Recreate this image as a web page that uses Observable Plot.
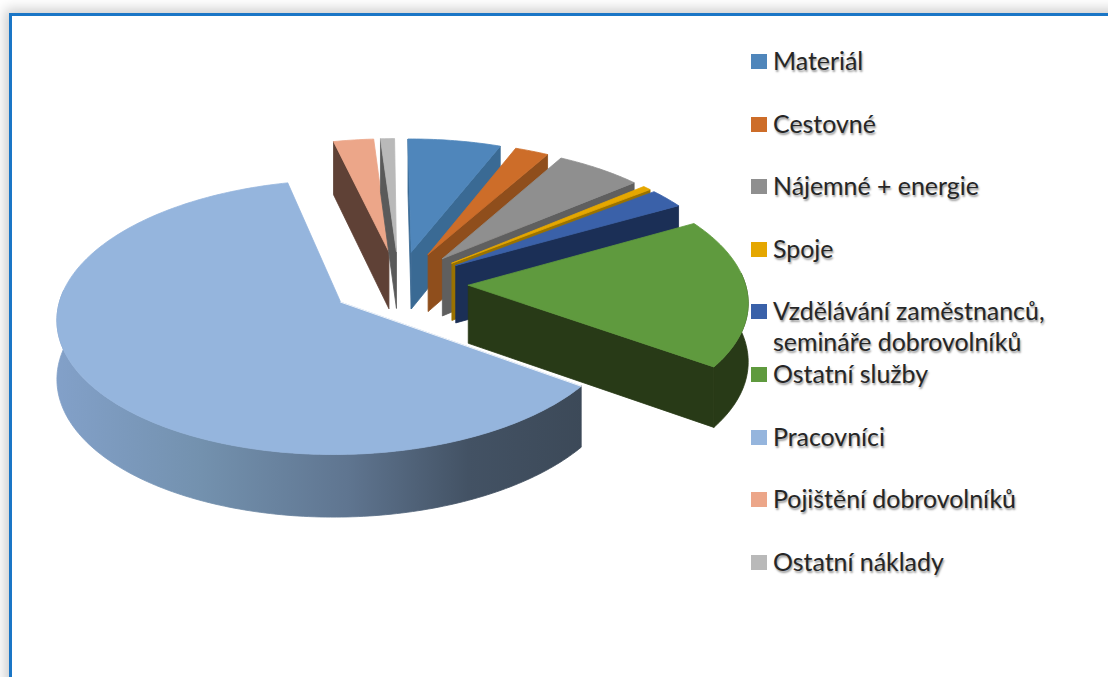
<!DOCTYPE html>
<html lang="cs">
<head>
<meta charset="utf-8">
<script src="https://cdn.jsdelivr.net/npm/d3@7"></script>
<script src="https://cdn.jsdelivr.net/npm/@observablehq/plot@0.6"></script>
<style>
  html, body { margin: 0; padding: 0; background: #fff; overflow: hidden; width: 1108px; height: 677px; }
  #frame { position: absolute; left: 9px; top: 13px; width: 1200px; height: 800px; border: 3px solid #1a76c6; box-sizing: border-box; box-shadow: 0 0 12px 4px rgba(0,0,0,.2); background: #fff; }
  #chart { position: absolute; left: 0; top: 0; width: 750px; height: 677px; }
  #chart svg { display: block; background: transparent; filter: blur(.45px); }
  #legend { position: absolute; left: 751px; top: 45px; width: 350px; font-family: Lato, "Open Sans", sans-serif; font-size: 24.9px; line-height: 31px; color: #262626; }
  .row { height: 62.6px; display: flex; align-items: flex-start; }
  .sw { flex: none; width: 16px; height: 15px; margin-top: 9px; margin-right: 6px; filter: blur(.3px); }
  .tx { white-space: pre-line; text-shadow: 1px 1.5px 2px rgba(0,0,0,.4); }
</style>
</head>
<body>
<div id="frame"></div>
<div id="chart"></div>
<div id="legend"></div>
<script>
const categories = ["Materiál", "Cestovné", "Nájemné + energie", "Spoje",
  "Vzdělávání zaměstnanců,\nsemináře dobrovolníků",
  "Ostatní služby", "Pracovníci", "Pojištění dobrovolníků", "Ostatní náklady"];
const values = [6.11, 2.22, 5.69, 0.56, 2.36, 18.06, 61.44, 2.64, 0.92];
const topColors = ["#4f86bb", "#cd6d29", "#8f8f8f", "#e5a700", "#3a61a9", "#5f9a3e", "#95b5dd", "#eca689", "#b9b9b9"];
const wallColors = ["#3a6a94", "#8f4e1c", "#5f5f5f", "#9a7200", "#1b2f56", "#283a17", "url(#wallGrad)", "#5f4136", "#5a5a5a"];
const paintOrder = [7, 8, 0, 1, 2, 3, 4, 5, 6];

// 3D pie view
const startAngle = -0.5, explode = 0.25;
const cx = 398.5, cy = 283, R = 277, A = 131.6, K = 0.108, H = 58;
const rad = (d) => d * Math.PI / 180;
const proj = (U, V) => [cx + R * U / (1 - K * V), cy + A * V / (1 - K * V)];
const thick = (V) => H * (1 + 0.07 * V);

const total = d3.sum(values);
let running = startAngle;
const slices = values.map((v, i) => {
  const a0 = running, a1 = running + v / total * 360;
  running = a1;
  const b = rad((a0 + a1) / 2);
  return {i, a0, a1, ou: explode * Math.sin(b), ov: -explode * Math.cos(b)};
});

const rows = [];
let pid = 0;
function poly(pts, fill) {
  pid++;
  [...pts, pts[0]].forEach(([x, y]) => rows.push({id: pid, x, y, fill}));
}
function top3(s, a) { return [s.ou + Math.sin(rad(a)), s.ov - Math.cos(rad(a))]; }
function pTop(U, V) { return proj(U, V); }
function pBot(U, V) { const [x, y] = proj(U, V); return [x, y + thick(V)]; }

for (const k of paintOrder) {
  const s = slices[k];
  const O = [s.ou, s.ov];
  // cut faces that turn toward the viewer
  if (Math.sin(rad(s.a0)) < -0.001) {
    const E = top3(s, s.a0);
    poly([pTop(...O), pTop(...E), pBot(...E), pBot(...O)], wallColors[k]);
  }
  if (Math.sin(rad(s.a1)) > 0.001) {
    const E = top3(s, s.a1);
    poly([pTop(...O), pTop(...E), pBot(...E), pBot(...O)], wallColors[k]);
  }
  // outer wall, front half of the rim only
  const w0 = Math.max(s.a0, 85), w1 = Math.min(s.a1, 275);
  if (w1 > w0) {
    const up = [], dn = [];
    for (const a of d3.range(w0, w1, 1).concat(w1)) {
      const E = top3(s, a);
      up.push(pTop(...E)); dn.push(pBot(...E));
    }
    poly([...up, ...dn.reverse()], wallColors[k]);
  }
  // top face
  const rim = d3.range(s.a0, s.a1, 1).concat(s.a1).map((a) => pTop(...top3(s, a)));
  poly([pTop(...O), ...rim], topColors[k]);
}

// thin light edge where the largest slice overlaps its neighbour
const big = slices[6];
const edge = [pTop(big.ou, big.ov), pTop(...top3(big, big.a0))].map(([x, y]) => ({x, y}));

const defs = () => {
  const d = d3.create("svg:defs");
  const g = d.append("linearGradient").attr("id", "wallGrad")
    .attr("gradientUnits", "userSpaceOnUse")
    .attr("x1", 60).attr("x2", 583).attr("y1", 0).attr("y2", 0);
  [[0, "#82a0c8"], [0.27, "#7391ae"], [0.55, "#5f7590"], [0.78, "#435264"], [1, "#3c4958"]]
    .forEach(([o, c]) => g.append("stop").attr("offset", o).attr("stop-color", c));
  return d.node();
};

const svg = Plot.plot({
  width: 750, height: 677,
  margin: 0,
  x: {domain: [0, 750], range: [0, 750], axis: null},
  y: {domain: [0, 677], range: [0, 677], axis: null},
  marks: [
    defs,
    Plot.line(rows, {x: "x", y: "y", z: "id",
      fill: {value: "fill", scale: null}, stroke: {value: "fill", scale: null}, strokeWidth: 0.8, curve: "linear"}),
    Plot.line(edge, {x: "x", y: "y", stroke: "#ffffff", strokeWidth: 0.9, strokeOpacity: 0.9})
  ]
});
document.getElementById("chart").append(svg);

const legend = d3.select("#legend");
categories.forEach((c, i) => {
  const r = legend.append("div").attr("class", "row");
  r.append("div").attr("class", "sw").style("background", topColors[i]);
  r.append("div").attr("class", "tx").text(c);
});
</script>
</body>
</html>
